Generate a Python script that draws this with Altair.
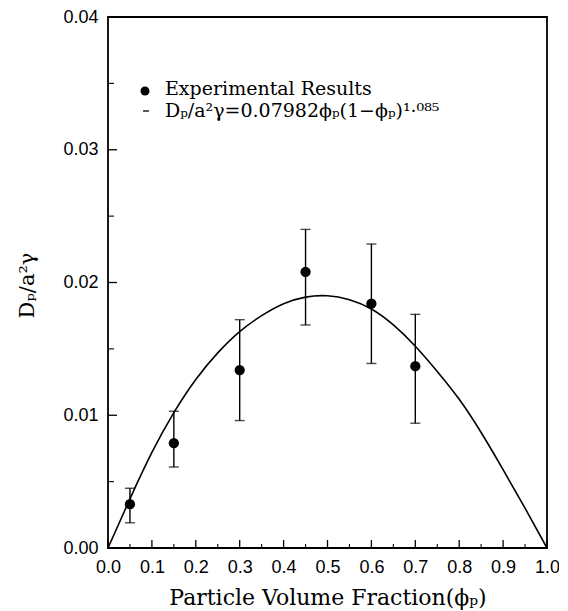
import altair as alt
import pandas as pd

phi_exp = [0.05, 0.15, 0.30, 0.45, 0.60, 0.70]
d_exp = [0.0033, 0.0079, 0.0134, 0.0208, 0.0184, 0.0137]
err_lo = [0.0019, 0.0061, 0.0096, 0.0168, 0.0139, 0.0094]
err_hi = [0.0045, 0.0103, 0.0172, 0.0240, 0.0229, 0.0176]

# Fitted curve
phi_fit = [0.0, 0.05, 0.10, 0.15, 0.20, 0.25, 0.30, 0.35, 0.40, 0.45, 0.50,
           0.55, 0.60, 0.65, 0.70, 0.75, 0.80, 0.85, 0.90, 0.95, 1.0]
d_fit = [0.0, 0.0037, 0.0072, 0.0102, 0.0127, 0.0147, 0.0163, 0.0175, 0.0184, 0.0189, 0.0190,
         0.0187, 0.0180, 0.0168, 0.0152, 0.0133, 0.0112, 0.0087, 0.0059, 0.0030, 0.0]

x_major = [0.0, 0.1, 0.2, 0.3, 0.4, 0.5, 0.6, 0.7, 0.8, 0.9, 1.0]
x_minor = [0.05, 0.15, 0.25, 0.35, 0.45, 0.55, 0.65, 0.75, 0.85, 0.95]
y_major = [0.0, 0.01, 0.02, 0.03, 0.04]
y_minor = [0.005, 0.015, 0.025, 0.035]

legend_labels = ["Experimental Results", "Dₚ/a²γ=0.07982ϕₚ(1−ϕₚ)¹·⁰⁸⁵"]

x_title = "Particle Volume Fraction(ϕₚ)"
y_title = "Dₚ/a²γ"

W, H = 439, 531
SERIF = "DejaVu Serif"
SANS = "Liberation Sans"

exp_df = pd.DataFrame({"phi": phi_exp, "d": d_exp, "lo": err_lo, "hi": err_hi})
fit_df = pd.DataFrame({"phi": phi_fit, "d": d_fit})

xs = alt.Scale(domain=[0, 1], nice=False)
ys = alt.Scale(domain=[0, 0.04], nice=False)

x_axis = alt.Axis(values=x_major, format=".1f", tickSize=0, domain=False, grid=False,
                  labelFlush=False, labelOverlap=False,
                  labelFont=SANS, labelFontSize=18, labelPadding=10, labelColor="black",
                  title=x_title, titleFont=SERIF, titleFontSize=22, titleFontWeight="normal",
                  titleColor="black", titleBaseline="alphabetic", titleY=56)
y_axis = alt.Axis(values=y_major, format=".2f", tickSize=0, domain=False, grid=False,
                  labelFlush=False, labelOverlap=False,
                  labelFont=SANS, labelFontSize=18, labelPadding=10, labelColor="black",
                  title=y_title, titleFont=SERIF, titleFontSize=21, titleFontWeight="normal",
                  titleColor="black", titleAngle=270, titleAlign="center", titleBaseline="middle",
                  titleX=-81, titleY=268)

curve = alt.Chart(fit_df).mark_line(color="black", strokeWidth=1.6, interpolate="natural").encode(
    x=alt.X("phi:Q", scale=xs, axis=x_axis),
    y=alt.Y("d:Q", scale=ys, axis=y_axis),
)

bars = alt.Chart(exp_df).mark_rule(color="black", strokeWidth=1.4).encode(
    x=alt.X("phi:Q", scale=xs), y=alt.Y("lo:Q", scale=ys), y2="hi:Q"
)
cap_lo = alt.Chart(exp_df).mark_tick(color="black", orient="horizontal", size=10, thickness=1.4).encode(
    x=alt.X("phi:Q", scale=xs), y=alt.Y("lo:Q", scale=ys)
)
cap_hi = alt.Chart(exp_df).mark_tick(color="black", orient="horizontal", size=10, thickness=1.4).encode(
    x=alt.X("phi:Q", scale=xs), y=alt.Y("hi:Q", scale=ys)
)
points = alt.Chart(exp_df).mark_circle(color="black", opacity=1, size=105).encode(
    x=alt.X("phi:Q", scale=xs), y=alt.Y("d:Q", scale=ys)
)

xmaj = alt.Chart(pd.DataFrame({"v": x_major})).mark_rule(color="black", strokeWidth=1.3).encode(
    x=alt.X("v:Q", scale=xs), y=alt.value(H), y2=alt.value(H - 8)
)
xmin = alt.Chart(pd.DataFrame({"v": x_minor})).mark_rule(color="black", strokeWidth=1.1).encode(
    x=alt.X("v:Q", scale=xs), y=alt.value(H), y2=alt.value(H - 4)
)
ymaj = alt.Chart(pd.DataFrame({"v": y_major})).mark_rule(color="black", strokeWidth=1.3).encode(
    y=alt.Y("v:Q", scale=ys), x=alt.value(0), x2=alt.value(9)
)
ymin = alt.Chart(pd.DataFrame({"v": y_minor})).mark_rule(color="black", strokeWidth=1.1).encode(
    y=alt.Y("v:Q", scale=ys), x=alt.value(0), x2=alt.value(6)
)

leg_df = pd.DataFrame({"label": legend_labels, "row": [0, 1]})
leg_dot = alt.Chart(leg_df.iloc[[0]]).mark_circle(color="black", opacity=1, size=80).encode(
    x=alt.value(37), y=alt.value(74)
)
leg_dash = alt.Chart(leg_df.iloc[[1]]).mark_rule(color="black", strokeWidth=1.3).encode(
    x=alt.value(35), x2=alt.value(41), y=alt.value(94)
)
leg_text1 = alt.Chart(leg_df.iloc[[0]]).mark_text(
    font=SERIF, fontSize=19, align="left", baseline="middle", color="black"
).encode(x=alt.value(57), y=alt.value(72), text="label:N")
leg_text2 = alt.Chart(leg_df.iloc[[1]]).mark_text(
    font=SERIF, fontSize=19, align="left", baseline="middle", color="black"
).encode(x=alt.value(57), y=alt.value(94), text="label:N")

chart = alt.layer(
    curve, bars, cap_lo, cap_hi, points, xmaj, xmin, ymaj, ymin,
    leg_dot, leg_dash, leg_text1, leg_text2
).properties(
    width=W, height=H,
    background="white",
    autosize=alt.AutoSizeParams(type="none"),
    padding={"left": 100, "top": 9, "right": 12, "bottom": 62},
).configure_view(
    stroke="black", strokeWidth=1.8
)

chart.save("out.html", embed_options={"renderer": "svg", "actions": False})
